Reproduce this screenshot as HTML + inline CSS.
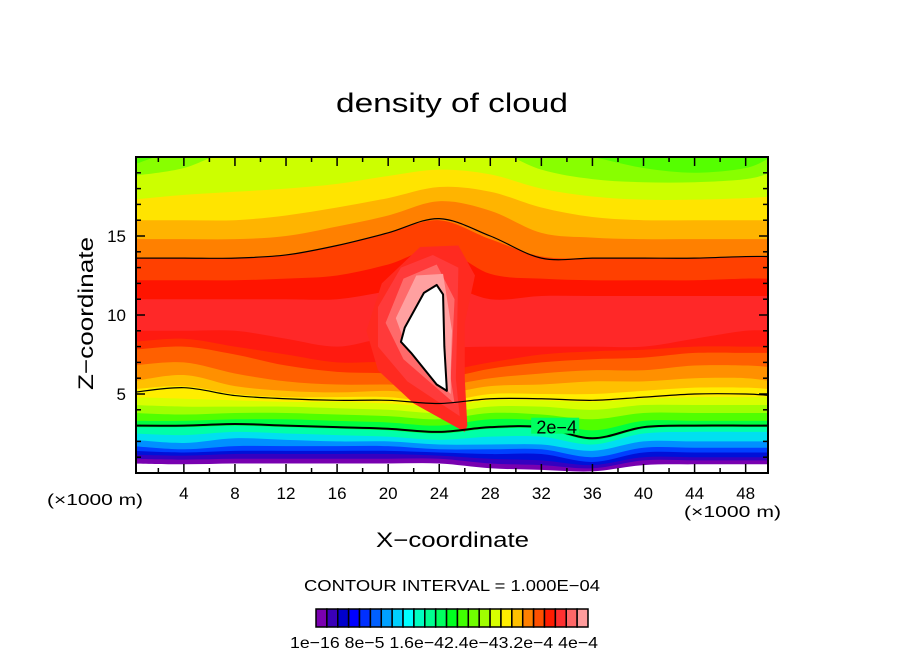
<!DOCTYPE html>
<html><head><meta charset="utf-8"><style>
html,body{margin:0;padding:0;background:#fff}
svg text{font-family:"Liberation Sans",sans-serif;fill:#000}
</style></head><body>
<svg id="c" width="904" height="654" xmlns="http://www.w3.org/2000/svg">
<text x="336" y="112" font-size="27" textLength="232" lengthAdjust="spacingAndGlyphs">density of cloud</text>
<g id="plot"></g>
<g id="axes"></g>
<text x="47" y="505" font-size="16" textLength="96" lengthAdjust="spacingAndGlyphs">(×1000 m)</text>
<text x="684" y="517" font-size="16" textLength="97" lengthAdjust="spacingAndGlyphs">(×1000 m)</text>
<text x="376" y="547" font-size="21" textLength="153" lengthAdjust="spacingAndGlyphs">X−coordinate</text>
<text transform="translate(93,390) rotate(-90)" font-size="21" textLength="153" lengthAdjust="spacingAndGlyphs">Z−coordinate</text>
<text x="304" y="591" font-size="16" textLength="296" lengthAdjust="spacingAndGlyphs">CONTOUR INTERVAL = 1.000E−04</text>
<g id="cbar"></g>
<text x="290" y="648" font-size="16" textLength="308" lengthAdjust="spacingAndGlyphs">1e−16 8e−5 1.6e−42.4e−43.2e−4 4e−4</text>
</svg>
<script>
const xs=[0,4,8,12,16,20,24,28,32,36,40,44,48,50];
const levelColors=["#7800b0","#3500c0","#0010d8","#0040ff","#0090ff","#00e0f0","#00ffa8","#00ff40","#50ff00","#a0ff00","#d8ff00","#ffee00","#ffc000","#ff9000","#ff6000","#ff3000","#ff1a10","#ff2828","#ff1400","#ff4000","#ff8000","#ffb400","#ffe400","#ccff00","#88ff00","#55ff00"];
const levelBounds=[
[0.6,0.55,0.6,0.6,0.6,0.6,0.6,0.3,0.2,0.1,0.5,0.55,0.55,0.55],
[0.9,0.85,0.9,0.9,0.9,0.9,0.9,0.6,0.5,0.3,0.8,0.8,0.8,0.8],
[1.15,1.1,1.2,1.2,1.2,1.2,1.1,0.9,0.8,0.5,1.0,1.0,1.0,1.0],
[1.4,1.3,1.4,1.4,1.4,1.4,1.3,1.2,1.2,0.7,1.3,1.3,1.3,1.3],
[1.7,1.5,1.7,1.7,1.7,1.7,1.5,1.5,1.5,1.0,1.6,1.6,1.6,1.6],
[2.1,1.9,2.2,2.1,2.0,2.0,1.8,1.8,1.8,1.4,2.0,2.0,2.0,2.0],
[2.5,2.4,2.6,2.5,2.4,2.3,2.1,2.3,2.3,1.8,2.5,2.6,2.6,2.6],
[2.9,2.9,3.0,2.9,2.8,2.7,2.5,2.8,2.8,2.1,2.8,2.9,2.9,2.9],
[3.3,3.3,3.4,3.4,3.3,3.2,3.0,3.4,3.3,2.7,3.3,3.3,3.3,3.3],
[3.8,3.7,3.8,3.8,3.7,3.6,3.4,3.8,3.7,3.4,3.8,3.8,3.8,3.8],
[4.3,4.2,4.2,4.2,4.1,4.0,3.8,4.2,4.2,4.0,4.3,4.3,4.3,4.3],
[4.8,4.7,4.6,4.5,4.5,4.4,4.2,4.6,4.6,4.5,4.7,4.8,4.8,4.8],
[5.3,5.5,5.0,4.8,4.8,4.8,4.5,5.0,5.0,5.0,5.2,5.4,5.4,5.3],
[5.8,6.2,5.5,5.2,5.1,5.2,5.0,5.5,5.6,5.8,5.8,6.0,6.0,5.8],
[6.8,7.0,6.3,5.8,5.6,5.6,5.5,6.0,6.3,6.5,6.5,6.8,6.8,6.7],
[7.8,8.0,7.5,6.8,6.4,6.3,6.0,6.6,7.0,7.2,7.3,7.6,7.6,7.6],
[8.3,8.5,8.0,7.5,7.0,7.0,6.5,7.0,7.5,7.7,7.8,8.0,8.0,8.0],
[9.0,9.0,9.0,8.5,8.0,8.5,8.0,8.0,8.0,8.0,8.0,8.5,9.0,9.0],
[11.0,11.0,11.0,11.0,11.0,11.5,12.0,11.0,11.2,11.2,11.2,11.2,11.2,11.2],
[12.2,12.2,12.2,12.3,12.5,13.2,14.2,12.6,12.3,12.2,12.2,12.2,12.3,12.3],
[13.6,13.6,13.6,13.8,14.4,15.2,16.0,14.8,13.7,13.6,13.6,13.6,13.7,13.7],
[14.8,14.8,14.8,15.0,15.6,16.3,17.2,16.6,15.2,14.9,14.8,14.8,14.8,14.8],
[16.0,16.0,16.0,16.3,16.8,17.4,18.1,17.8,16.8,16.2,16.0,16.0,16.0,16.0],
[17.3,17.6,17.8,18.0,18.3,18.8,19.2,18.9,18.0,17.5,17.3,17.3,17.4,17.5],
[18.8,19.3,20.5,20.5,20.5,20.5,20.5,20.5,19.2,18.6,18.4,18.4,18.6,19.0],
[19.5,20.5,20.5,20.5,20.5,20.5,20.5,20.5,20.5,20.0,19.3,19.0,19.3,20.0]];
const contourLow=[3.0,3.0,3.1,3.0,2.9,2.8,2.6,2.9,2.9,2.2,2.9,3.0,3.0,3.0];
const contourMid=[5.1,5.4,4.9,4.7,4.6,4.6,4.4,4.7,4.7,4.6,4.8,5.0,5.0,4.9];
const contourTop=[13.6,13.6,13.6,13.8,14.4,15.2,16.1,15.0,13.6,13.6,13.6,13.6,13.7,13.7];
const plumeRed=[[26,2.6],[22,4.4],[19.2,6.5],[18.3,9],[19.5,12],[22.5,14.3],[25.5,14.4],[26.8,12.5],[26,9.5],[26,6],[26.2,3]];
const plumeMid=[[25.6,3.6],[21.5,5.8],[19.2,8],[19.2,10.5],[21,13],[23.5,13.8],[25.5,13],[25.4,9],[25.3,6]];
const plumePink=[[25.2,4.4],[21.2,7.2],[19.8,9.5],[21.2,12.3],[23.8,13.2],[25.2,11],[24.9,6]];
const plumeLight=[[24.9,5],[21.5,7.8],[20.6,9.8],[22.2,12.5],[24.3,12.6],[25,9],[24.9,6.5]];
const plumeWhite=[[24.6,5.2],[23.8,5.6],[21.8,7.6],[21.0,8.3],[21.3,9.2],[22.8,11.4],[23.8,11.9],[24.3,11.3],[24.4,8]];
const xTicks=[4,8,12,16,20,24,28,32,36,40,44,48];
const yTicks=[5,10,15];
const cbarColors=["#7a00b0","#3a00b8","#0000cd","#0000ff","#0030ff","#0060ff","#00a0ff","#00d0ff","#00ffff","#00ffc0","#00ff90","#00ff60","#00ff20","#40ff00","#70ff00","#a0ff00","#d8ff00","#ffee00","#ffc000","#ff8000","#ff5000","#ff1c00","#ff3030","#ff6868","#ff9c9c"];
const L=136,R=768,T=157,B=473,X0=0.25,X1=49.75,Z1=20;
const sx=x=>L+(x-X0)/(X1-X0)*(R-L);
const sz=z=>B-z/Z1*(B-T);
const NS="http://www.w3.org/2000/svg";
function mk(t,a,p){const e=document.createElementNS(NS,t);for(const k in a)e.setAttribute(k,a[k]);p.appendChild(e);return e;}
function curve(vals){const pts=xs.map((x,i)=>[sx(x),sz(vals[i])]);let d="M"+pts[0][0]+","+pts[0][1];
for(let i=0;i<pts.length-1;i++){const p0=pts[Math.max(0,i-1)],p1=pts[i],p2=pts[i+1],p3=pts[Math.min(pts.length-1,i+2)];
d+=" C"+(p1[0]+(p2[0]-p0[0])/6)+","+(p1[1]+(p2[1]-p0[1])/6)+" "+(p2[0]-(p3[0]-p1[0])/6)+","+(p2[1]-(p3[1]-p1[1])/6)+" "+p2[0]+","+p2[1];}return d;}
function poly(arr){return "M"+arr.map(p=>sx(p[0])+","+sz(p[1])).join(" L")+"Z";}
const plot=document.getElementById('plot');
const cp=mk('clipPath',{id:'clip'},plot);mk('rect',{x:L,y:T,width:R-L,height:B-T},cp);
const g=mk('g',{'clip-path':'url(#clip)'},plot);
let bg=mk('rect',{x:L,y:T,width:R-L,height:B-T,fill:'#fff'},g);


levelBounds.forEach((b,i)=>{
const d="M"+(L-20)+","+sz(b[0])+" L"+curve(b).slice(1)+" L"+(R+20)+","+sz(b[b.length-1])+" L"+(R+20)+","+(T-20)+" L"+(L-20)+","+(T-20)+"Z";
const p=mk('path',{d:d,fill:levelColors[i]},g);


});
[[plumeRed,"#ff2a20"],[plumeMid,"#ff3a3a"],[plumePink,"#ff6a6a"],[plumeLight,"#ffa0a0"],[plumeWhite,"#ffffff"]].forEach((s,i)=>{
const p=mk('path',{d:poly(s[0]),fill:s[1],stroke:i==4?'#000':'none','stroke-width':2,'stroke-linejoin':'round'},g);


});
[[contourTop,1.2],[contourMid,1.2],[contourLow,2]].forEach((c,i)=>{
const p=mk('path',{d:curve(c[0]),fill:'none',stroke:'#000','stroke-width':c[1]},g);


});
const lab=mk('rect',{x:sx(31.2),y:sz(3.5),width:48,height:16,fill:'#00ff60'},g);


const lt=mk('text',{x:sx(33.2),y:sz(2.5),'font-size':18,'text-anchor':'middle'},g);lt.textContent='2e−4';


const ax=document.getElementById('axes');
const fr=mk('rect',{x:L,y:T,width:R-L,height:B-T,fill:'none',stroke:'#000','stroke-width':2},ax);


for(let x=2;x<50;x+=2){const big=x%4==0;const X=sx(x);
mk('line',{x1:X,y1:B,x2:X,y2:B-(big?9:5),stroke:'#000','stroke-width':1.5},ax);
mk('line',{x1:X,y1:T,x2:X,y2:T+(big?9:5),stroke:'#000','stroke-width':1.5},ax);}
for(let z=1;z<20;z++){const big=z%5==0;const Y=sz(z);
mk('line',{x1:L,y1:Y,x2:L+(big?9:5),y2:Y,stroke:'#000','stroke-width':1.5},ax);
mk('line',{x1:R,y1:Y,x2:R-(big?9:5),y2:Y,stroke:'#000','stroke-width':1.5},ax);}
xTicks.forEach(v=>{const t=mk('text',{x:sx(v),y:B+26,'font-size':17,'text-anchor':'middle'},ax);t.textContent=v;

});
yTicks.forEach(v=>{const t=mk('text',{x:L-10,y:sz(v)+6,'font-size':17,'text-anchor':'end'},ax);t.textContent=v;

});
const cb=document.getElementById('cbar');const cw=(588-316)/cbarColors.length;
cbarColors.forEach((c,i)=>{const r=mk('rect',{x:316+i*cw,y:609,width:cw,height:18,fill:c,stroke:'#000','stroke-width':1.5},cb);

});
</script>
</body></html>
